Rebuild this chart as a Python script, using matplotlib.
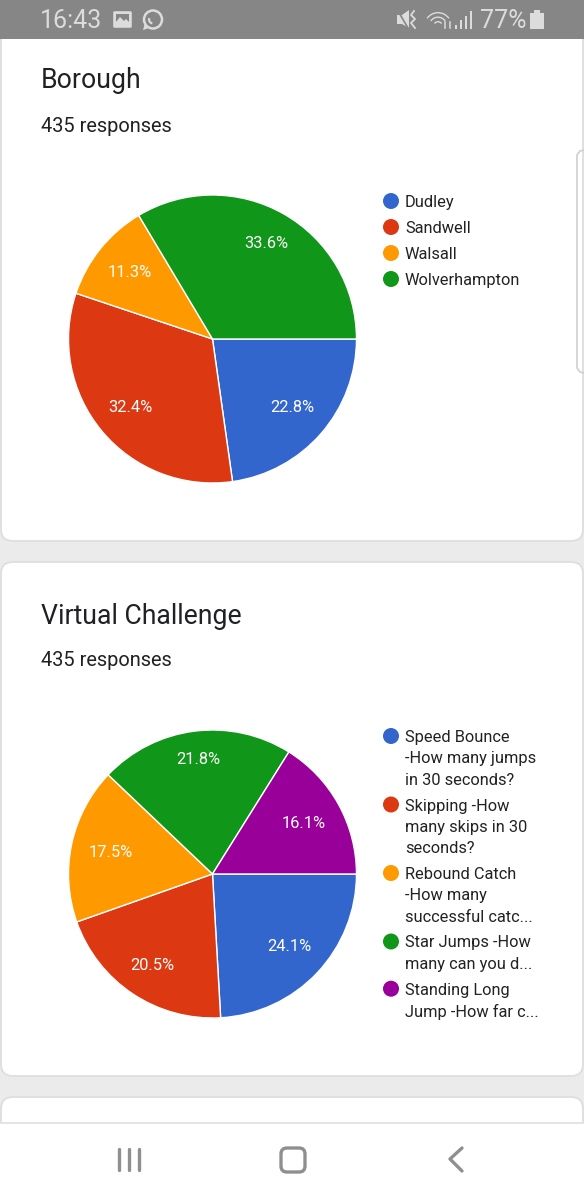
import matplotlib
matplotlib.use('Agg')
import matplotlib.pyplot as plt
from matplotlib.patches import Rectangle, FancyBboxPatch, Circle, Wedge, Polygon

plt.rcParams['font.family'] = ['Roboto', 'DejaVu Sans']

W = 584
H = 1200

colors = ['#3366cc', '#dc3912', '#ff9900', '#109618', '#990099']

borough_title = 'Borough'
borough_responses = '435 responses'
borough_labels = ['Dudley', 'Sandwell', 'Walsall', 'Wolverhampton']
borough_values = [22.8, 32.4, 11.3, 33.6]

challenge_title = 'Virtual Challenge'
challenge_responses = '435 responses'
challenge_labels = [
    ['Speed Bounce', '-How many jumps', 'in 30 seconds?'],
    ['Skipping -How', 'many skips in 30', 'seconds?'],
    ['Rebound Catch', '-How many', 'successful catc...'],
    ['Star Jumps -How', 'many can you d...'],
    ['Standing Long', 'Jump -How far c...'],
]
challenge_values = [24.1, 20.5, 17.5, 21.8, 16.1]

status_time = '16:43'
status_battery = '77%'

# насколько далеко от центра подписи процентов (доля радиуса)
borough_label_r = [0.73, 0.74, 0.735, 0.76]
challenge_label_r = [0.735, 0.76, 0.725, 0.805, 0.725]


def draw_card(ax, x, y, w, h):
    card = FancyBboxPatch((x + 12, y + 12), w - 24, h - 24, boxstyle='round,pad=12,rounding_size=12',
                          fc='white', ec='#dedede', lw=1.3, zorder=1)
    ax.add_patch(card)


def draw_pie(cx, cy, r, values, label_r):
    # своя ось под каждый круг, координаты в пикселях картинки
    pie_ax = fig.add_axes([(cx - r - 1) / W, 1 - (cy + r + 1) / H, (2 * r + 2) / W, (2 * r + 2) / H])
    wedges, texts, pcts = pie_ax.pie(values, colors=colors, startangle=0, counterclock=False, radius=1,
                                     wedgeprops={'ec': 'white', 'lw': 1.0}, autopct='%.1f%%', pctdistance=1.0,
                                     textprops={'color': 'white', 'fontsize': 11.8})
    for i in range(len(pcts)):
        x, y = pcts[i].get_position()
        pcts[i].set_position((x * label_r[i], y * label_r[i]))
    pie_ax.set_xlim(-1.007, 1.007)
    pie_ax.set_ylim(-1.007, 1.007)
    pie_ax.set_aspect('equal')
    pie_ax.axis('off')


def draw_status_bar(ax):
    light = '#dcdcdc'
    ax.add_patch(Rectangle((0, 0), W, 39, fc='#868686', ec='none', zorder=5))
    ax.text(40, 21, status_time, color=light, fontsize=18, va='center', zorder=6)
    ax.text(480, 21, status_battery, color=light, fontsize=18, va='center', zorder=6)
    # картинка
    ax.add_patch(FancyBboxPatch((114, 12), 17, 15, boxstyle='round,pad=0.8,rounding_size=1.5', fc=light, ec='none', zorder=6))
    ax.add_patch(Rectangle((116, 14), 13, 8, fc='#868686', ec='none', zorder=7))
    ax.add_patch(Polygon([[116, 22], [120, 17], [124, 21], [126, 19], [129, 22]], fc=light, ec='none', zorder=8))
    # whatsapp
    ax.add_patch(Circle((153, 19.5), 9, fc='none', ec=light, lw=1.8, zorder=6))
    ax.add_patch(Polygon([[143, 30], [145, 23], [149, 28]], fc=light, ec='none', zorder=6))
    ax.add_patch(Wedge((153, 19.5), 5, 100, 200, width=2.2, fc=light, ec='none', zorder=6))
    # без звука
    ax.add_patch(Polygon([[397, 15], [402, 15], [409, 10], [409, 28], [402, 24], [397, 24]], fc=light, ec='none', zorder=6))
    ax.plot([398, 408], [11, 28], color='#868686', lw=1.2, zorder=7)
    ax.plot([414, 411, 415, 411, 415], [11, 15, 19, 23, 28], color=light, lw=1.3, zorder=6)
    # wifi
    for r, a in [(14, 1.4), (9.5, 1.4), (5, 1.4)]:
        ax.add_patch(Wedge((438, 26), r, 215, 325, width=a, fc=light, ec='none', zorder=6))
    ax.plot([445, 445], [22, 28], color=light, lw=1.1, zorder=6)
    ax.plot([450, 450], [22, 28], color=light, lw=1.1, zorder=6)
    for x, h in [(456, 4), (461, 9), (466, 13), (471, 18)]:
        ax.add_patch(Rectangle((x - 0.8, 29 - h), 1.6, h, fc=light, ec='none', zorder=6))
    # батарея
    ax.add_patch(Rectangle((530, 13), 14, 16, fc=light, ec='none', zorder=6))
    ax.add_patch(Rectangle((534, 10), 6, 3, fc=light, ec='none', zorder=6))


def draw_nav_bar(ax):
    grey = '#8f8f8f'
    ax.add_patch(Rectangle((0, 1123), W, 77, fc='white', ec='none', zorder=5))
    ax.plot([0, W], [1123, 1123], color='#e2e2e2', lw=1.3, zorder=6)
    for x in [118.5, 129, 139]:
        ax.plot([x, x], [1149, 1170], color=grey, lw=2.4, solid_capstyle='round', zorder=6)
    ax.add_patch(FancyBboxPatch((285, 1152), 16, 16, boxstyle='round,pad=4,rounding_size=6', fc='none', ec=grey, lw=2.4, zorder=6))
    ax.plot([462, 450, 462], [1148, 1159, 1171], color=grey, lw=2.4, solid_capstyle='round', solid_joinstyle='round', zorder=6)


def draw_legend_flat(ax, labels, y0, step):
    for i in range(len(labels)):
        ax.add_patch(Circle((391, y0 + i * step), 8, fc=colors[i], ec='none', zorder=3))
        ax.text(405, y0 + 1.5 + i * step, labels[i], color='#222222', fontsize=11.8, va='center', zorder=3)


def draw_legend_wrapped(ax, labels, y0, line_h, gap):
    y = y0
    for i in range(len(labels)):
        ax.add_patch(Circle((391, y), 8, fc=colors[i], ec='none', zorder=3))
        for j in range(len(labels[i])):
            ax.text(405, y + 1.5 + j * line_h, labels[i][j], color='#222222', fontsize=11.8, va='center', zorder=3)
        y += len(labels[i]) * line_h + gap


fig = plt.figure(figsize=(W / 100, H / 100), dpi=100)
ax = fig.add_axes([0, 0, 1, 1])
ax.set_xlim(0, W)
ax.set_ylim(H, 0)
ax.axis('off')

ax.add_patch(Rectangle((0, 0), W, H, fc='#ebebeb', ec='none', zorder=0))

draw_card(ax, 1, -20, 582, 561)
draw_card(ax, 1, 562, 582, 514)
draw_card(ax, 1, 1097, 582, 80)

# край соседней карточки справа
ax.plot([584, 580, 577, 577, 580, 584], [150, 151, 155, 368, 372, 373], color='#cfcfcf', lw=1.2, zorder=2)

ax.text(41, 81, borough_title, color='#202124', fontsize=19.2, va='center', zorder=3)
ax.text(41, 126, borough_responses, color='#202124', fontsize=14.4, va='center', zorder=3)
ax.text(41, 616, challenge_title, color='#202124', fontsize=19.2, va='center', zorder=3)
ax.text(41, 661, challenge_responses, color='#202124', fontsize=14.4, va='center', zorder=3)

draw_legend_flat(ax, borough_labels, 201, 26)
draw_legend_wrapped(ax, challenge_labels, 736, 21.3, 4.6)

draw_pie(212.5, 339, 144, borough_values, borough_label_r)
draw_pie(212.5, 874, 144, challenge_values, challenge_label_r)

draw_status_bar(ax)
draw_nav_bar(ax)

fig.savefig('out.png', dpi=100)
